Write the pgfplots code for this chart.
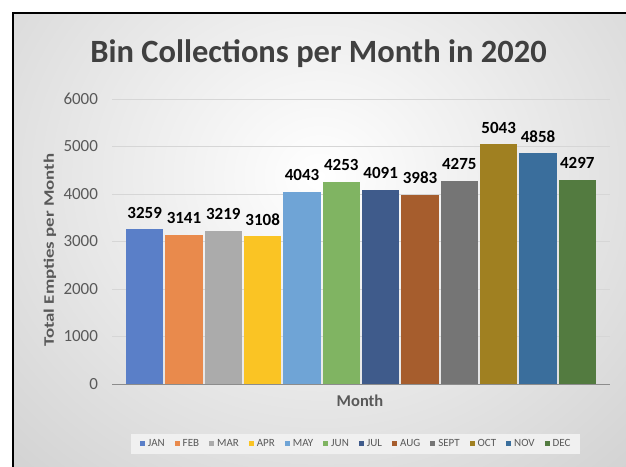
\documentclass[border=0pt]{standalone}
\usepackage{pgfplots}
\pgfplotsset{compat=1.18}
\usepackage{fontspec}
\setmainfont{Carlito}
\definecolor{tgray}{HTML}{595959}
\definecolor{ttitle}{HTML}{404040}
\definecolor{cJAN}{HTML}{5A7FC8}
\definecolor{cFEB}{HTML}{E98A4C}
\definecolor{cMAR}{HTML}{ABABAB}
\definecolor{cAPR}{HTML}{FAC424}
\definecolor{cMAY}{HTML}{6FA4D6}
\definecolor{cJUN}{HTML}{80B462}
\definecolor{cJUL}{HTML}{3F5B8B}
\definecolor{cAUG}{HTML}{A65D2D}
\definecolor{cSEP}{HTML}{757575}
\definecolor{cOCT}{HTML}{A08021}
\definecolor{cNOV}{HTML}{3A6E9C}
\definecolor{cDEC}{HTML}{537B40}
\begin{document}
\begin{tikzpicture}[x=1pt,y=1pt]
\useasboundingbox (0,0) rectangle (626,466);
\fill[white] (0,0) rectangle (626,466);
\begin{scope}
\clip (13,0) rectangle (626,453);
\shade[inner color=white, outer color=black!24] (320,290) ellipse (620 and 560);
\end{scope}
\draw[black, line width=1.8pt] (13,-2) -- (13,453) -- (628,453);
\node[font=\bfseries\fontsize{32.5}{32.5}\selectfont, text=ttitle, anchor=base] at (318.5,403) {Bin Collections per Month in 2020};
\begin{axis}[
  scale only axis, width=498pt, height=285pt,
  at={(112pt,82pt)}, anchor=south west,
  xmin=0.17, xmax=12.83, ymin=0, ymax=6000,
  ybar, bar width=0.95,
  ytick={0,1000,...,6000}, xtick=\empty,
  ymajorgrids, grid style={black!16, line width=0.8pt},
  axis x line*=bottom, axis y line*=left,
  x axis line style={black!45, line width=0.8pt, -},
  y axis line style={draw=none},
  major tick length=0pt,
  /pgf/number format/assume math mode=true,
  /pgf/number format/1000 sep={},
  yticklabel style={font=\fontsize{17}{17}\selectfont, text=tgray, xshift=-10.5pt},
  xlabel={Month}, ylabel={\scalebox{1.3}[1]{Total Empties per Month}},
  every axis x label/.style={at={(axis description cs:0.498,0)}, anchor=center, yshift=-17pt, font=\bfseries\fontsize{16.5}{16.5}\selectfont, text=tgray},
  every axis y label/.style={at={(axis description cs:-0.1245,0.47)}, anchor=center, rotate=90, font=\bfseries\fontsize{14.5}{14.5}\selectfont, text=tgray},
  nodes near coords,
  nodes near coords style={font=\bfseries\fontsize{17}{17}\selectfont, text=black, yshift=7.5pt},
  legend columns=12,
  legend image code/.code={\draw[#1, draw=none] (0pt,-2.5pt) rectangle (5pt,2.5pt);},
  legend style={at={(0.4885,-0.2105)}, anchor=center, fill=black!6, draw=none,
    font=\fontsize{11}{11}\selectfont, text=tgray,
    inner ysep=6pt, inner xsep=9pt,
    nodes={inner sep=0pt},
    /tikz/every odd column/.append style={column sep=3pt},
    /tikz/every even column/.append style={column sep=10pt}},
]
\addplot[fill=cJAN, draw=none, bar shift=0pt] coordinates {(1,3259)};
\addplot[fill=cFEB, draw=none, bar shift=0pt] coordinates {(2,3141)};
\addplot[fill=cMAR, draw=none, bar shift=0pt] coordinates {(3,3219)};
\addplot[fill=cAPR, draw=none, bar shift=0pt] coordinates {(4,3108)};
\addplot[fill=cMAY, draw=none, bar shift=0pt] coordinates {(5,4043)};
\addplot[fill=cJUN, draw=none, bar shift=0pt] coordinates {(6,4253)};
\addplot[fill=cJUL, draw=none, bar shift=0pt] coordinates {(7,4091)};
\addplot[fill=cAUG, draw=none, bar shift=0pt] coordinates {(8,3983)};
\addplot[fill=cSEP, draw=none, bar shift=0pt] coordinates {(9,4275)};
\addplot[fill=cOCT, draw=none, bar shift=0pt] coordinates {(10,5043)};
\addplot[fill=cNOV, draw=none, bar shift=0pt] coordinates {(11,4858)};
\addplot[fill=cDEC, draw=none, bar shift=0pt] coordinates {(12,4297)};
\legend{JAN,FEB,MAR,APR,MAY,JUN,JUL,AUG,SEPT,OCT,NOV,DEC}
\end{axis}
\end{tikzpicture}
\end{document}
